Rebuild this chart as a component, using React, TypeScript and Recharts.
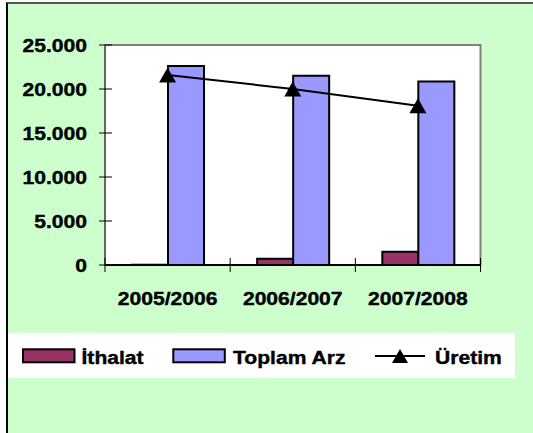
import React from "react";
import { ComposedChart, Bar, Line, XAxis, YAxis } from "recharts";

const years = ["2005/2006", "2006/2007", "2007/2008"];
const ithalat = [30, 700, 1500];
const toplamArz = [22600, 21500, 20850];
const uretim = [21600, 20000, 18100];
const yTicks = [0, 5000, 10000, 15000, 20000, 25000];

const FONT = "'Liberation Sans', Arial, sans-serif";
const STRETCH = 1.11;

const data = years.map((name, i) => ({
  name,
  ithalat: ithalat[i],
  toplamArz: toplamArz[i],
  uretim: uretim[i],
}));

function fmt(v: number) {
  return String(v).replace(/\B(?=(\d{3})+(?!\d))/g, ".");
}

function WideText({ x, y, anchor, children }: { x: number; y: number; anchor?: "start" | "end" | "middle"; children: React.ReactNode }) {
  return (
    <text
      transform={`translate(${x},${y}) scale(${STRETCH},1)`}
      textAnchor={anchor ?? "start"}
      fontFamily={FONT}
      fontWeight="bold"
      fontSize={19}
      fill="#000"
      stroke="#000"
      strokeWidth={0.4}
    >
      {children}
    </text>
  );
}

function YTick(props: any) {
  const { x, y, payload } = props;
  return (
    <g>
      <line x1={x - 6} x2={x + 7} y1={y} y2={y} stroke="#000" strokeWidth={1} />
      <WideText x={x - 18} y={y + 6.8} anchor="end">
        {fmt(payload.value)}
      </WideText>
    </g>
  );
}

function XTick(props: any) {
  const { x, y, payload, width, visibleTicksCount } = props;
  const half = payload.offset || width / visibleTicksCount / 2;
  const last = payload.index === visibleTicksCount - 1;
  return (
    <g>
      <line x1={x - half} x2={x - half} y1={y - 7} y2={y + 7} stroke="#000" strokeWidth={1} />
      {last && <line x1={x + half} x2={x + half} y1={y - 7} y2={y + 7} stroke="#000" strokeWidth={1} />}
      <WideText x={x} y={y + 40} anchor="middle">
        {payload.value}
      </WideText>
    </g>
  );
}

function Triangle(props: any) {
  const { cx, cy } = props;
  if (cx == null || cy == null) return null;
  return <path d={`M${cx},${cy - 7.5} L${cx + 8.5},${cy + 7.5} L${cx - 8.5},${cy + 7.5} Z`} fill="#000" />;
}

function LegendBox() {
  return (
    <svg width={533} height={433} style={{ position: "absolute", left: 0, top: 0, pointerEvents: "none" }}>
      <rect x={8} y={333} width={507} height={45} fill="#fff" />
      <rect x={23} y={349.3} width={51.5} height={13} fill="#993366" stroke="#000" strokeWidth={2} />
      <WideText x={81.5} y={363.5}>İthalat</WideText>
      <rect x={173.3} y={349.3} width={51.5} height={13} fill="#9999FF" stroke="#000" strokeWidth={2} />
      <WideText x={233} y={363.5}>Toplam Arz</WideText>
      <line x1={375} x2={425} y1={356} y2={356} stroke="#000" strokeWidth={2} />
      <path d="M400,349 L408,363 L392,363 Z" fill="#000" />
      <WideText x={435} y={363.5}>Üretim</WideText>
    </svg>
  );
}

export default function App() {
  return (
    <div style={{ position: "fixed", inset: 0, overflow: "hidden", background: "#fff" }}>
      <div
        style={{
          position: "absolute",
          left: 6,
          top: 2,
          width: 600,
          height: 500,
          background: "#CCFFCC",
          borderLeft: "2px solid #000",
          borderTop: "2px solid #555",
        }}
      />
      <div style={{ position: "absolute", left: 0, top: 0 }}>
        <ComposedChart
          width={533}
          height={433}
          data={data}
          margin={{ top: 45, right: 52.5, bottom: 128, left: 0 }}
          barSize={36}
          barGap={0}
        >
          {/* plot frame */}
          <rect x={105} y={45} width={375.5} height={220} fill="#fff" stroke="#808080" strokeWidth={2} />
          <XAxis
            dataKey="name"
            height={40}
            tickLine={false}
            tickSize={0}
            tickMargin={0}
            interval={0}
            axisLine={{ stroke: "#000", strokeWidth: 2 }}
            tick={<XTick />}
          />
          <YAxis
            width={105}
            domain={[0, 25000]}
            ticks={yTicks}
            tickLine={false}
            tickSize={0}
            tickMargin={0}
            axisLine={{ stroke: "#666", strokeWidth: 2 }}
            tick={<YTick />}
          />
          <Bar dataKey="ithalat" fill="#993366" stroke="#000" strokeWidth={2} isAnimationActive={false} />
          <Bar dataKey="toplamArz" fill="#9999FF" stroke="#000" strokeWidth={2} isAnimationActive={false} />
          <Line dataKey="uretim" stroke="#000" strokeWidth={2} dot={<Triangle />} activeDot={false} isAnimationActive={false} />
        </ComposedChart>
      </div>
      <LegendBox />
    </div>
  );
}
